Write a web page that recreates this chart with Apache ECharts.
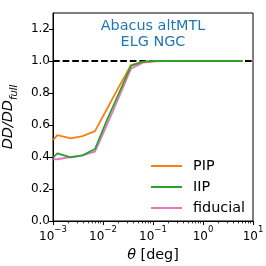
<!DOCTYPE html>
<html><head><meta charset="utf-8">
<script src="https://cdn.jsdelivr.net/npm/echarts@6/dist/echarts.min.js"></script>
<style>html,body{margin:0;padding:0;background:#fff}#c{width:266px;height:266px}</style>
</head><body><div id="c"></div>
<script>
const theta = [0.001014, 0.00122, 0.00227, 0.00389, 0.00692, 0.0120, 0.0209, 0.0363, 0.0631, 0.110, 0.191, 0.331, 0.575, 1.0, 1.74, 3.02, 6.17];
const pip = [0.506, 0.537, 0.517, 0.530, 0.562, 0.70, 0.84, 0.975, 0.995, 0.999, 1.0, 1.0, 1.0, 1.0, 1.0, 1.0, 1.0];
const iip = [0.398, 0.423, 0.398, 0.410, 0.450, 0.63, 0.80, 0.970, 0.996, 0.999, 1.0, 1.0, 1.0, 1.0, 1.0, 1.0, 1.0];
const fiducial = [0.386, 0.386, 0.400, 0.410, 0.434, 0.600, 0.775, 0.952, 0.990, 0.998, 1.0, 1.0, 1.0, 1.0, 1.0, 1.0, 1.0];
const refLine = [[0.001, 1.0], [10, 1.0]];
const xMajor = [0.001, 0.01, 0.1, 1, 10];
const xMinor = [];
[0.001, 0.01, 0.1, 1].forEach(d => { for (let k = 2; k <= 9; k++) xMinor.push(+(d * k).toPrecision(3)); });
const yTicks = [0, 0.2, 0.4, 0.6, 0.8, 1.0, 1.2];
const titleLines = ['Abacus altMTL', 'ELG NGC'];
const seriesNames = ['PIP', 'IIP', 'fiducial'];

const F = 'DejaVu Sans';
const chart = echarts.init(document.getElementById('c'), null, {renderer: 'canvas'});
const toXY = arr => theta.map((t, i) => [t, arr[i]]);
const expStr = v => String(Math.round(Math.log10(v))).replace('-', '\u2212');

chart.setOption({
  animation: false,
  textStyle: {fontFamily: F},
  grid: {left: 53, right: 13, top: 13, bottom: 45, show: true, borderColor: '#000', borderWidth: 1,
         containLabel: false, outerBoundsMode: 'none'},
  graphic: [{
    type: 'text', x: 153, y: 18, z: 10,
    style: {text: titleLines.join('\n'), fill: '#1f77b4', font: '14.4px "DejaVu Sans"', align: 'center', lineHeight: 16.5}
  }],
  legend: {
    data: seriesNames, orient: 'vertical', left: 151, top: 158.5, padding: 0,
    itemWidth: 31, itemHeight: 2, itemGap: 6, icon: 'rect',
    textStyle: {fontFamily: F, fontSize: 14.4, color: '#000', lineHeight: 15, padding: [0, 0, 0, 6]}
  },
  xAxis: [{
    type: 'log', logBase: 10, min: 0.001, max: 10,
    axisLine: {show: true, lineStyle: {color: '#000', width: 1}},
    axisTick: {show: true, customValues: xMajor, length: 4, lineStyle: {color: '#000', width: 1}},
    axisLabel: {
      customValues: xMajor, margin: 4, color: '#000',
      formatter: v => '{b|10}{s|' + expStr(v) + '}',
      rich: {
        b: {fontFamily: F, fontSize: 12, color: '#000', lineHeight: 18, verticalAlign: 'bottom'},
        s: {fontFamily: F, fontSize: 8.5, color: '#000', lineHeight: 18, verticalAlign: 'top'}
      }
    },
    splitLine: {show: false},
    name: '{i|θ} [deg]', nameLocation: 'middle', nameGap: 23,
    nameTextStyle: {fontFamily: F, fontSize: 14.4, color: '#000',
      rich: {i: {fontFamily: F, fontSize: 14.4, fontStyle: 'italic', color: '#000'}}}
  }, {
    type: 'log', logBase: 10, min: 0.001, max: 10, position: 'bottom',
    axisLine: {show: false},
    axisTick: {show: true, customValues: xMinor, length: 2.4, lineStyle: {color: '#000', width: 0.8}},
    axisLabel: {show: false}, splitLine: {show: false}
  }],
  yAxis: {
    type: 'value', min: 0, max: 1.3,
    axisLine: {show: true, lineStyle: {color: '#000', width: 1}},
    axisTick: {show: true, customValues: yTicks, length: 4, lineStyle: {color: '#000', width: 1}},
    axisLabel: {customValues: yTicks, margin: 3, color: '#000', fontFamily: F, fontSize: 12, formatter: v => v.toFixed(1)},
    splitLine: {show: false},
    name: '{a|DD/DD}{b|full}', nameLocation: 'middle', nameGap: 34, nameRotate: 90,
    nameTextStyle: {fontFamily: F, color: '#000',
      rich: {
        a: {fontFamily: F, fontSize: 14.4, fontStyle: 'italic', color: '#000', lineHeight: 18, verticalAlign: 'top'},
        b: {fontFamily: F, fontSize: 10, fontStyle: 'italic', color: '#000', lineHeight: 18, verticalAlign: 'bottom'}
      }}
  },
  series: [
    {type: 'line', data: refLine, showSymbol: false, silent: true, z: 1,
     lineStyle: {color: '#000', width: 1.8, type: [6.7, 2.9]}},
    {name: 'fiducial', type: 'line', data: toXY(fiducial), showSymbol: false, z: 2,
     itemStyle: {color: '#e377c2'}, lineStyle: {color: '#e377c2', width: 1.8}},
    {name: 'PIP', type: 'line', data: toXY(pip), showSymbol: false, z: 3,
     itemStyle: {color: '#ff7f0e'}, lineStyle: {color: '#ff7f0e', width: 1.8}},
    {name: 'IIP', type: 'line', data: toXY(iip), showSymbol: false, z: 4,
     itemStyle: {color: '#2ca02c'}, lineStyle: {color: '#2ca02c', width: 1.8}}
  ]
});
</script></body></html>
